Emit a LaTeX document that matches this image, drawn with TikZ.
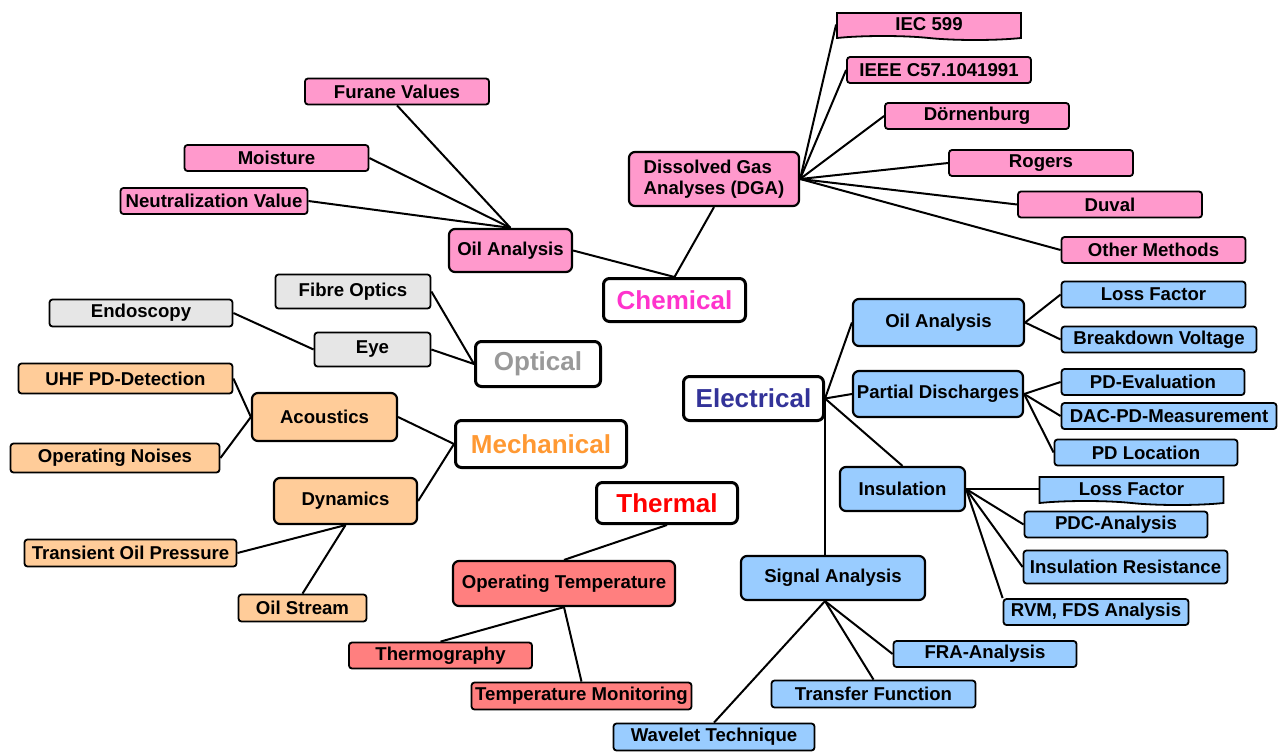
\documentclass[tikz,border=0pt]{standalone}
\usepackage{fontspec}
\setmainfont{Liberation Sans}
\usepackage{tikz}
\usetikzlibrary{shapes.symbols}
\definecolor{chempink}{HTML}{FF99CC}
\definecolor{chemtext}{HTML}{FF33CC}
\definecolor{optgray}{HTML}{E6E6E6}
\definecolor{opttext}{HTML}{999999}
\definecolor{mechorange}{HTML}{FFCC99}
\definecolor{mechtext}{HTML}{FF9933}
\definecolor{thermred}{HTML}{FF7F7F}
\definecolor{thermtext}{HTML}{FF0000}
\definecolor{elecblue}{HTML}{99CCFF}
\definecolor{electext}{HTML}{333399}
\tikzset{
  % Leaf boxes
  leaf/.style={
    draw=black, fill=#1, line width=1.8pt, rounded corners=3pt,
    minimum height=26pt, inner sep=2pt, align=center,
    font=\fontsize{18.6}{21.5}\selectfont\bfseries,
  },
  leaf/.default=chempink,
  % Leaf boxes with a wavy lower edge
  wavy/.style={
    leaf=#1, shape=tape, sharp corners, tape bend top=none,
    tape bend bottom=out and in, tape bend height=4pt,
  },
  % Second level boxes
  sub/.style={
    leaf=#1, line width=2.2pt, rounded corners=6pt,
  },
  % Main categories
  cat/.style={
    draw=black, fill=white, line width=3pt, rounded corners=6pt,
    inner sep=2pt, text=#1,
    font=\fontsize{26}{30}\selectfont\bfseries,
  },
  % Connectors
  link/.style={line width=2pt, black},
}

\begin{document}
\begin{tikzpicture}[x=1pt, y=-1pt]
\useasboundingbox (0,0) rectangle (1287,753);

% ====================================================================
% Chemical
% ====================================================================
\node[cat=chemtext, minimum width=142, minimum height=43] (chem) at (674.5,300) {Chemical};
\node[sub, minimum width=170, minimum height=54, align=left] (dga) at (714,179)
  {Dissolved Gas\\Analyses (DGA)};
\node[sub, minimum width=123, minimum height=43] (oilc) at (510.5,250.5) {Oil Analysis};

\node[wavy, minimum width=184, minimum height=27] (iec) at (929,24.5) {IEC 599};
\node[leaf, minimum width=184] (ieee) at (939,70) {IEEE C57.1041991};
\node[leaf, minimum width=184] (doern) at (977,116) {Dörnenburg};
\node[leaf, minimum width=184] (rogers) at (1041,163) {Rogers};
\node[leaf, minimum width=184] (duval) at (1110,204.5) {Duval};
\node[leaf, minimum width=184] (other) at (1153.5,250) {Other Methods};

\node[leaf, minimum width=184] (furane) at (397,91.5) {Furane Values};
\node[leaf, minimum width=184] (moist) at (276.5,158) {Moisture};
\node[leaf, minimum width=187] (neutral) at (214,201) {Neutralization Value};

\draw[link] (chem.north) -- (dga.south);
\draw[link] (chem.north) -- (oilc.east);
\foreach \leafname in {iec, ieee, doern, rogers, duval, other} {
  \draw[link] (dga.east) -- (\leafname.west);
}
\draw[link] (oilc.north) -- (furane.south);
\draw[link] (oilc.north) -- (moist.east);
\draw[link] (oilc.north) -- (neutral.east);

% ====================================================================
% Optical
% ====================================================================
\node[cat=opttext, minimum width=125, minimum height=45] (optical) at (538,364) {Optical};
\node[leaf=optgray, minimum width=155, minimum height=34] (fibre) at (353,291.5) {Fibre Optics};
\node[leaf=optgray, minimum width=116, minimum height=34] (eye) at (372.5,349.5) {Eye};
\node[leaf=optgray, minimum width=183, minimum height=27] (endo) at (141,313) {Endoscopy};

\draw[link] (optical.west) -- (fibre.east);
\draw[link] (optical.west) -- (eye.east);
\draw[link] (eye.west) -- (endo.east);

% ====================================================================
% Mechanical
% ====================================================================
\node[cat=mechtext, minimum width=171, minimum height=47] (mech) at (541,444) {Mechanical};
\node[sub=mechorange, minimum width=145, minimum height=48] (acoustics) at (324.5,417) {Acoustics};
\node[sub=mechorange, minimum width=143, minimum height=46] (dyn) at (345.5,501) {Dynamics};
\node[leaf=mechorange, minimum width=214, minimum height=30] (uhf) at (125.5,378.5) {UHF PD-Detection};
\node[leaf=mechorange, minimum width=209, minimum height=29] (noises) at (115,458) {Operating Noises};
\node[leaf=mechorange, minimum width=212, minimum height=27] (transient) at (130.5,553) {Transient Oil Pressure};
\node[leaf=mechorange, minimum width=128, minimum height=27] (oilstream) at (302.5,608) {Oil Stream};

\draw[link] (acoustics.west) -- (uhf.east);
\draw[link] (acoustics.west) -- (noises.east);
\draw[link] (mech.west) -- (acoustics.east);
\draw[link] (mech.west) -- (dyn.east);
\draw[link] (dyn.south) -- (transient.east);
\draw[link] (dyn.south) -- (oilstream.north);

% ====================================================================
% Thermal
% ====================================================================
\node[cat=thermtext, minimum width=141, minimum height=41] (thermal) at (667,503) {Thermal};
\node[sub=thermred, minimum width=222, minimum height=45] (optemp) at (564,583.5) {Operating Temperature};
\node[leaf=thermred, minimum width=183] (thermo) at (440.5,655.5) {Thermography};
\node[leaf=thermred, minimum width=220, minimum height=27] (tempmon) at (581.5,696) {Temperature Monitoring};

\draw[link] (thermal.south) -- (optemp.north);
\draw[link] (optemp.south) -- (thermo.north);
\draw[link] (optemp.south) -- (tempmon.north);

% ====================================================================
% Electrical
% ====================================================================
\node[cat=electext, minimum width=140, minimum height=44] (elec) at (753.5,398.5) {Electrical};
\node[sub=elecblue, minimum width=171, minimum height=47] (oile) at (938.5,322.5) {Oil Analysis};
\node[sub=elecblue, minimum width=170, minimum height=46] (pd) at (938,394) {Partial Discharges};
\node[sub=elecblue, minimum width=125, minimum height=44] (insul) at (902.5,489) {Insulation};
\node[sub=elecblue, minimum width=184, minimum height=44] (sig) at (833,578) {Signal Analysis};

\node[leaf=elecblue, minimum width=184] (lossoil) at (1153.5,294.5) {Loss Factor};
\node[leaf=elecblue, minimum width=195] (breakdown) at (1159,339.5) {Breakdown Voltage};
\node[leaf=elecblue, minimum width=183] (pdeval) at (1153,382) {PD-Evaluation};
\node[leaf=elecblue, minimum width=215] (dac) at (1169,416) {DAC-PD-Measurement};
\node[leaf=elecblue, minimum width=183] (pdloc) at (1146,452.5) {PD Location};

\node[wavy=elecblue, minimum width=184, minimum height=28] (lossins) at (1131.5,489) {Loss Factor};
\node[leaf=elecblue, minimum width=183] (pdc) at (1116,524.5) {PDC-Analysis};
\node[leaf=elecblue, minimum width=204, minimum height=33] (insres) at (1125.5,567) {Insulation Resistance};
\node[leaf=elecblue, minimum width=185] (rvm) at (1096,612) {RVM, FDS Analysis};

\node[leaf=elecblue, minimum width=183] (fra) at (985,654) {FRA-Analysis};
\node[leaf=elecblue, minimum width=204, minimum height=27] (transfer) at (873.5,694) {Transfer Function};
\node[leaf=elecblue, minimum width=201, minimum height=27] (wavelet) at (714,737) {Wavelet Technique};

\coordinate (sigtop) at (elec.east |- sig.north);
\coordinate (sigfoot) at (elec.east |- sig.south);

\draw[link] (elec.east) -- (oile.west);
\draw[link] (elec.east) -- (pd.west);
\draw[link] (elec.east) -- (insul.north);
\draw[link] (elec.east) -- (sigtop);

\draw[link] (oile.east) -- (lossoil.west);
\draw[link] (oile.east) -- (breakdown.west);
\foreach \leafname in {pdeval, dac, pdloc} {
  \draw[link] (pd.east) -- (\leafname.west);
}
\foreach \leafname in {lossins, pdc, insres} {
  \draw[link] (insul.east) -- (\leafname.west);
}
\draw[link] (insul.east) -- (rvm.north west);

\draw[link] (sigfoot) -- (fra.west);
\draw[link] (sigfoot) -- (transfer.north);
\draw[link] (sigfoot) -- (wavelet.north);

\end{tikzpicture}
\end{document}
